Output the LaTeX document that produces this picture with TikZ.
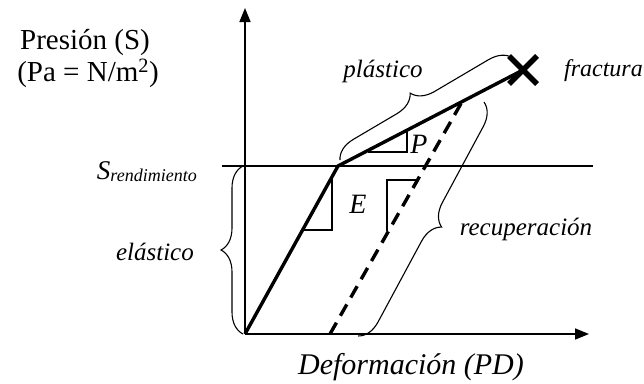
\documentclass[tikz,border=0pt]{standalone}
\usepackage{fontspec}
\setmainfont{Liberation Serif}
\usetikzlibrary{arrows.meta,decorations.pathreplacing}
\tikzset{
  axis/.style={line width=1.6pt,-{Triangle[length=14pt,width=11pt]}},
  thin line/.style={line width=1.3pt},
  curve/.style={line width=3.4pt},
  unload/.style={line width=3.4pt,dash pattern=on 13pt off 8pt},
  bracebox/.style={line width=1.1pt,decorate,decoration={brace,amplitude=22pt,aspect=#1}},
  lbl/.style={inner sep=0pt,font=\fontsize{25}{25}\selectfont\itshape},
  biglbl/.style={inner sep=0pt,font=\fontsize{29}{32}\selectfont},
}
\begin{document}
\begin{tikzpicture}[x=1pt,y=-1pt]
\useasboundingbox (0,0) rectangle (644,383);
% key points
\coordinate (O) at (245,334);
\coordinate (ytop) at (245,8);
\coordinate (xend) at (589,334);
\coordinate (Yp) at (338,166);
\coordinate (F) at (523,70);
\coordinate (yl) at (222,166);
\coordinate (yr) at (593,166);
\coordinate (d0) at (330,334);
\coordinate (d1) at (463,100);
% axes
\draw[axis] (O) -- (ytop);
\draw[axis] (O) -- (xend);
\draw[thin line] (yl) -- (yr);
% curve
\draw[curve] (O) -- (Yp) -- (F);
\draw[unload] (d0) -- (d1);
% fracture cross
\coordinate (c1) at (509,56);
\coordinate (c2) at (537,84);
\coordinate (c3) at (509,84);
\coordinate (c4) at (537,56);
\draw[line width=5.5pt] (c1) -- (c2) (c3) -- (c4);
% slope triangles
\coordinate (ea) at (332,177);
\coordinate (eb) at (332,230);
\coordinate (ec) at (303,230);
\draw[thin line] (ea) -- (eb) -- (ec);
\coordinate (pa) at (407,131);
\coordinate (pb) at (407,152);
\coordinate (pc) at (368,152);
\draw[thin line] (pa) -- (pb) -- (pc);
\coordinate (ra) at (416,180);
\coordinate (rb) at (387,180);
\coordinate (rc) at (387,231);
\draw[thin line] (ra) -- (rb) -- (rc);
% braces
\coordinate (b1a) at (243,334);
\coordinate (b1b) at (243,166);
\draw[bracebox=0.5] (b1a) -- (b1b);
\coordinate (b2a) at (340,160);
\coordinate (b2b) at (513,58);
\draw[bracebox=0.47] (b2a) -- (b2b);
\coordinate (b3a) at (484,102);
\coordinate (b3b) at (358,336);
\draw[bracebox=0.49] (b3a) -- (b3b);
% labels
\node[biglbl] (pres) at (85,43) {Presión (S)};
\node[biglbl] (pa) at (88,73) {(Pa = N/m\textsuperscript{2})};
\node[lbl,anchor=base east] (sr) at (197,179) {{\fontsize{27}{27}\selectfont S}\raisebox{-2pt}{\fontsize{18}{18}\selectfont rendimiento}};
\node[lbl,anchor=east] (ela) at (194,252) {elástico};
\node[lbl] (pla) at (383,71) {plástico};
\node[lbl,anchor=east,font=\fontsize{24}{24}\selectfont\itshape] (fra) at (643,71) {fractura};
\node[lbl] (rec) at (526,229) {recuperación};
\node[lbl,font=\fontsize{28}{28}\selectfont\itshape] (Elbl) at (358,204) {E};
\node[lbl,font=\fontsize{28}{28}\selectfont\itshape] (Plbl) at (419,144) {P};
\node[inner sep=0pt,font=\fontsize{30}{30}\selectfont\itshape] (def) at (411,367) {Deformación (PD)};
\end{tikzpicture}
\end{document}
